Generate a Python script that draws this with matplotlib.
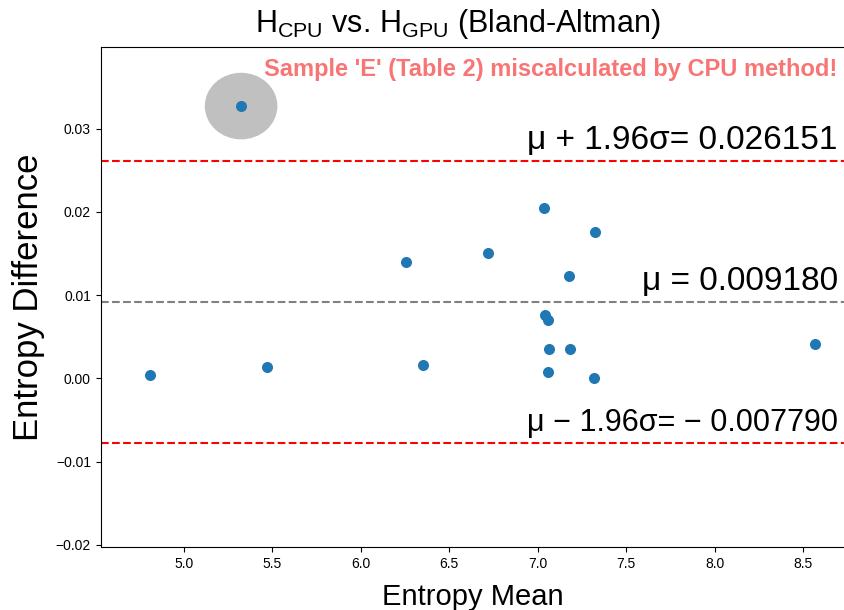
#!/usr/bin/env python3
"""Bland-Altman plot of CPU vs GPU entropy, with the outlier sample 'E' marked."""
import matplotlib
matplotlib.use("Agg")
import matplotlib.pyplot as plt
from matplotlib import font_manager
from matplotlib.patches import Ellipse

OUT = "out.png"

# Entropy mean (x) and difference (y) for each sample
ENTROPY_MEAN = [5.325, 4.812, 5.474, 6.256, 6.355, 6.720, 7.036, 7.043,
                7.057, 7.063, 7.057, 7.322, 7.178, 7.184, 7.317, 8.567]
ENTROPY_DIFF = [0.03272, 0.00037, 0.00141, 0.01398, 0.00161, 0.01506,
                0.02051, 0.00758, 0.00702, 0.00350, 0.00080, 0.01759,
                0.01234, 0.00350, 0.00005, 0.00410]

# Summary statistics as printed on the chart
MEAN = 0.009180
UPPER = 0.026151
LOWER = -0.007790

# Outlier (sample 'E')
OUTLIER = (5.325, 0.03272)

names = {f.name for f in font_manager.fontManager.ttflist}
FONT = "Liberation Sans Narrow" if "Liberation Sans Narrow" in names else "Liberation Sans"
plt.rcParams["font.family"] = [FONT, "DejaVu Sans"]
plt.rcParams["mathtext.fontset"] = "custom"
plt.rcParams["mathtext.rm"] = FONT
plt.rcParams["mathtext.it"] = FONT + ":italic"

fig = plt.figure(figsize=(8.44, 6.10), dpi=100)
ax = fig.add_axes([100.7 / 844, 1 - 547 / 610, 1 - 100.7 / 844, (547 - 47.3) / 610])

ax.add_patch(Ellipse(OUTLIER, 0.41, 0.0080, facecolor="#c0c0c0",
                     edgecolor="none", zorder=1))
ax.scatter(ENTROPY_MEAN, ENTROPY_DIFF, s=48, color="#1f77b4", zorder=3)

ax.axhline(MEAN, color="gray", ls="--", lw=1.5, zorder=2)
ax.axhline(UPPER, color="red", ls="--", lw=1.5, zorder=2)
ax.axhline(LOWER, color="red", ls="--", lw=1.5, zorder=2)

ax.set_xlim(4.532, 8.73)
ax.set_ylim(-0.02025, 0.03978)
ax.set_xticks([5.0, 5.5, 6.0, 6.5, 7.0, 7.5, 8.0, 8.5])
ax.set_yticks([-0.02, -0.01, 0.0, 0.01, 0.02, 0.03])
ax.tick_params(labelsize=10)
ax.spines["right"].set_visible(False)

tx = 8.695
ax.text(tx, UPPER + 0.0006, "\u03bc + 1.96\u03c3= 0.026151", ha="right",
        va="bottom", fontsize=24)
ax.text(tx, MEAN + 0.0006, "\u03bc = 0.009180", ha="right", va="bottom",
        fontsize=24)
ax.text(tx, LOWER + 0.0006, "\u03bc \u2212 1.96\u03c3= \u2212 0.007790",
        ha="right", va="bottom", fontsize=22)
ax.text(tx, 0.0371, "Sample 'E' (Table 2) miscalculated by CPU method!",
        ha="right", va="center", fontsize=17, fontweight="bold",
        color="#f87575")

fig.text(458 / 844, 1 - 24 / 610,
         r"$\mathrm{H_{CPU}}$ vs. $\mathrm{H_{GPU}}$ (Bland-Altman)",
         ha="center", va="center", fontsize=22)
ax.set_xlabel("Entropy Mean", fontsize=21, labelpad=9)
ax.set_ylabel("Entropy Difference", fontsize=25, labelpad=8)

fig.savefig(OUT, dpi=100, facecolor="white")
print("wrote", OUT)
